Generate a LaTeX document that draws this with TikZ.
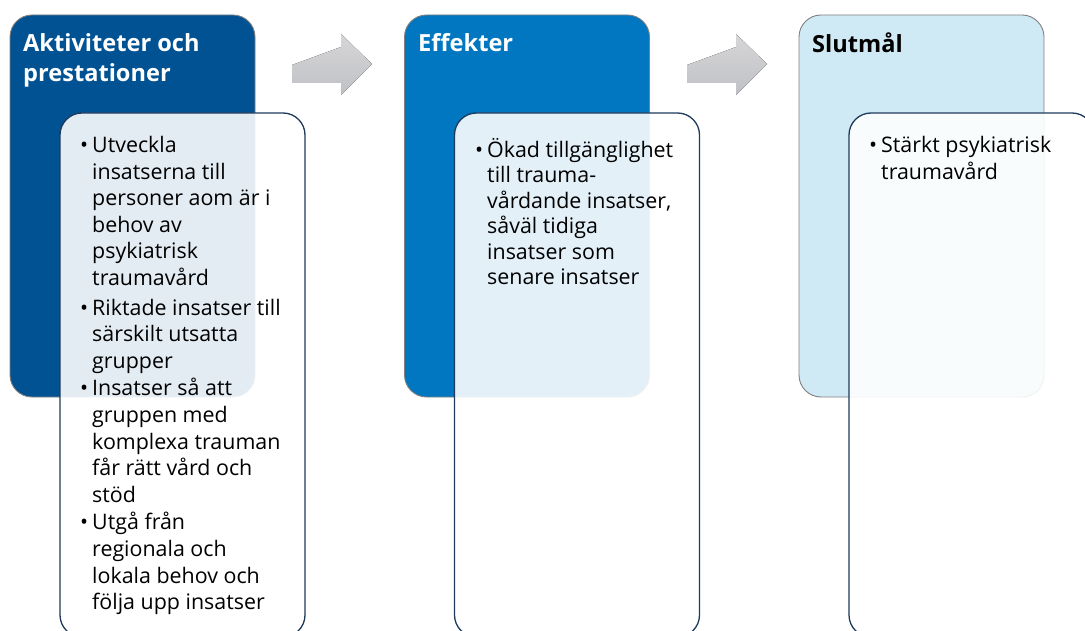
\documentclass[tikz,border=0pt]{standalone}
\usepackage{fontspec}
\setmainfont{Open Sans}
\usetikzlibrary{positioning}
\definecolor{hdrdark}{RGB}{0,82,147}
\definecolor{hdrmid}{RGB}{0,119,192}
\definecolor{hdrlight}{RGB}{208,234,245}
\definecolor{frame}{RGB}{128,128,128}
\definecolor{navy}{RGB}{31,58,92}
\definecolor{arrowtop}{RGB}{214,214,216}
\definecolor{arrowbot}{RGB}{192,193,197}
\tikzset{
  hdrbox/.style={draw=frame, line width=0.9pt, rounded corners=22pt,
    minimum width=245pt, minimum height=382pt, inner sep=0pt},
  itembox/.style={draw=navy, line width=1.3pt, fill=white, fill opacity=0.89,
    rounded corners=22pt, minimum width=245pt, minimum height=524pt, inner sep=0pt},
  title/.style={anchor=north west, inner sep=0pt, align=left,
    font=\bfseries\fontsize{23.6}{30}\selectfont},
  body/.style={anchor=north west, inner sep=0pt, align=left, text=black,
    font=\fontsize{21.4}{26.6}\selectfont},
  bodytight/.style={body, font=\fontsize{21.4}{25.5}\selectfont},
  blockarrow/.style={top color=arrowtop, bottom color=arrowbot, draw=none}
}
\newcommand\bul{\llap{•\hspace{4pt}}}
\begin{document}
\begin{tikzpicture}[x=1pt,y=-1pt]
\useasboundingbox (0,0) rectangle (1085,631);
\begin{scope}
\clip (0,0) rectangle (1085,631);

% column headers
\node[hdrbox, fill=hdrdark]  (h1) at (132.5,206) {};
\node[hdrbox, fill=hdrmid]   (h2) at (527,206) {};
\node[hdrbox, fill=hdrlight] (h3) at (921.5,206) {};

% block arrows between the columns
\coordinate (a1) at (292,65);
\fill[blockarrow] (a1) -- ++(49,-18) -- ++(0,-13) -- ++(31,30) -- ++(-31,31)
  -- ++(0,-12) -- ++(-49,0) -- cycle;
\coordinate (a2) at (687,65);
\fill[blockarrow] (a2) -- ++(49,-18) -- ++(0,-13) -- ++(31,30) -- ++(-31,31)
  -- ++(0,-12) -- ++(-49,0) -- cycle;

% content boxes
\node[itembox] (b1) at (182.5,375) {};
\node[itembox] (b2) at (577,375) {};
\node[itembox] (b3) at (971.5,375) {};

% titles
\node[title, text=white] (t1) at (23,33) {Aktiviteter och\\prestationer};
\node[title, text=white] (t2) at (418,33) {Effekter};
\node[title, text=black] (t3) at (812,33) {Slutmål};

% bullet texts
\node[body] (c1) at (92,136) {%
  \bul Utveckla\\ insatserna till\\ personer aom är i\\ behov av\\ psykiatrisk\\ traumavård\\[3pt]
  \bul Riktade insatser till\\ särskilt utsatta\\ grupper\\[1pt]
  \bul Insatser så att\\ gruppen med\\ komplexa trauman\\ får rätt vård och\\ stöd\\[1pt]
  \bul Utgå från\\ regionala och\\ lokala behov och\\ följa upp insatser};
\node[bodytight] (c2) at (487,138) {%
  \bul Ökad tillgänglighet\\ till trauma-\\ vårdande insatser,\\ såväl tidiga\\ insatser som\\ senare insatser};
\node[body] (c3) at (881,136) {%
  \bul Stärkt psykiatrisk\\ traumavård};
\end{scope}
\end{tikzpicture}
\end{document}
